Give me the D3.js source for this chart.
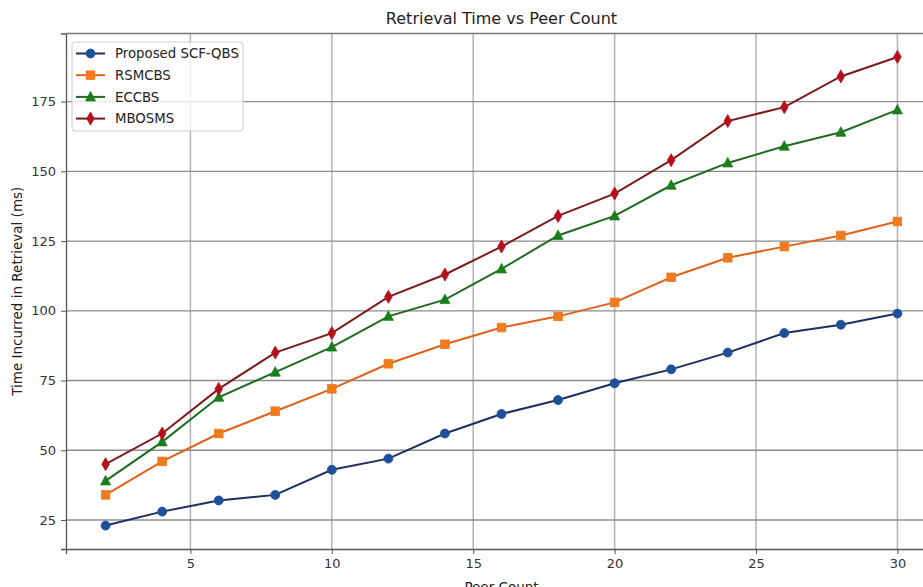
<html>
<head>
<script src="https://d3js.org/d3.v7.min.js"></script>
<style>
  body { margin: 0; background: #fff; }
  text { font-family: "DejaVu Sans", sans-serif; fill: #333; }
</style>
</head>
<body>
<svg id="chart" width="923" height="587"></svg>
<script>
var peers = [2, 4, 6, 8, 10, 12, 14, 16, 18, 20, 22, 24, 26, 28, 30];
var scfqbs = [23, 28, 32, 34, 43, 47, 56, 63, 68, 74, 79, 85, 92, 95, 99];
var rsmcbs = [34, 46, 56, 64, 72, 81, 88, 94, 98, 103, 112, 119, 123, 127, 132];
var eccbs = [39, 53, 69, 78, 87, 98, 104, 115, 127, 134, 145, 153, 159, 164, 172];
var mbosms = [45, 56, 72, 85, 92, 105, 113, 123, 134, 142, 154, 168, 173, 184, 191];
var xTicks = [5, 10, 15, 20, 25, 30];
var yTicks = [25, 50, 75, 100, 125, 150, 175];

var series = [
  {name: "Proposed SCF-QBS", values: scfqbs, line: "#1c2f5e", fill: "#1f4f99", marker: "circle"},
  {name: "RSMCBS", values: rsmcbs, line: "#e0621a", fill: "#f07a1e", marker: "square"},
  {name: "ECCBS", values: eccbs, line: "#1f6b1f", fill: "#1b7d1b", marker: "triangle"},
  {name: "MBOSMS", values: mbosms, line: "#7a1c1c", fill: "#b5101a", marker: "diamond"}
];

var svg = d3.select("#chart");
var pLeft = 66, pRight = 937, pTop = 33.5, pBottom = 549;

var x = d3.scaleLinear().domain([0.6, 31.4]).range([pLeft, pRight]);
var y = d3.scaleLinear().domain([14.6, 199.4]).range([pBottom, pTop]);

// grid
svg.append("g").selectAll("line").data(xTicks).enter().append("line")
  .attr("x1", d => x(d)).attr("x2", d => x(d))
  .attr("y1", pTop).attr("y2", pBottom)
  .style("stroke", "#b3b3b3").style("stroke-width", 1.5);
svg.append("g").selectAll("line").data(yTicks).enter().append("line")
  .attr("x1", pLeft).attr("x2", pRight)
  .attr("y1", d => y(d)).attr("y2", d => y(d))
  .style("stroke", "#8c8c8c").style("stroke-width", 1.3);

// axes
var xAxis = svg.append("g").attr("transform", "translate(0," + pBottom + ")")
  .call(d3.axisBottom(x).tickValues(xTicks).tickSize(5).tickPadding(5));
var yAxis = svg.append("g").attr("transform", "translate(" + pLeft + ",0)")
  .call(d3.axisLeft(y).tickValues(yTicks).tickSize(5).tickPadding(5));
[xAxis, yAxis].forEach(function(a) {
  a.select(".domain").style("stroke", "#555").style("stroke-width", 1.3);
  a.selectAll(".tick line").style("stroke", "#555");
  a.selectAll(".tick text").style("font-size", "13px").style("fill", "#333");
});
svg.append("line").attr("x1", pLeft).attr("x2", pRight).attr("y1", pTop).attr("y2", pTop)
  .style("stroke", "#777").style("stroke-width", 1.3);

// title and labels
svg.append("text").attr("x", (pLeft + pRight) / 2).attr("y", 24)
  .attr("text-anchor", "middle").style("font-size", "16px").style("fill", "#222")
  .text("Retrieval Time vs Peer Count");
svg.append("text").attr("x", (pLeft + pRight) / 2).attr("y", 592)
  .attr("text-anchor", "middle").style("font-size", "13.5px").style("fill", "#222")
  .text("Peer Count");
svg.append("text").attr("transform", "translate(22," + ((pTop + pBottom) / 2) + ") rotate(-90)")
  .attr("text-anchor", "middle").style("font-size", "13.5px").style("fill", "#222")
  .text("Time Incurred in Retrieval (ms)");

function drawMarker(g, type, fill, edge) {
  var m;
  if (type == "circle") m = g.append("circle").attr("r", 4.5);
  else if (type == "square") m = g.append("rect").attr("x", -4.3).attr("y", -4.3).attr("width", 8.6).attr("height", 8.6);
  else if (type == "triangle") m = g.append("path").attr("d", "M0,-5.5L5,4L-5,4Z");
  else m = g.append("path").attr("d", "M0,-6.5L3.8,0L0,6.5L-3.8,0Z");
  m.style("fill", fill).style("stroke", edge).style("stroke-width", 0.8);
}

var line = d3.line().x((d, i) => x(peers[i])).y(d => y(d));

series.forEach(function(s) {
  svg.append("path").datum(s.values).attr("d", line)
    .style("fill", "none").style("stroke", s.line).style("stroke-width", 2);
  s.values.forEach(function(v, i) {
    var g = svg.append("g").attr("transform", "translate(" + x(peers[i]) + "," + y(v) + ")");
    drawMarker(g, s.marker, s.fill, s.fill);
  });
});

// legend
var leg = svg.append("g").attr("transform", "translate(72,42)");
leg.append("rect").attr("width", 171).attr("height", 89).attr("rx", 3)
  .style("fill", "rgba(255,255,255,0.8)").style("stroke", "#ccc");
series.forEach(function(s, i) {
  var yy = 11.5 + i * 21.7;
  leg.append("line").attr("x1", 4).attr("x2", 33).attr("y1", yy).attr("y2", yy)
    .style("stroke", s.line).style("stroke-width", 2);
  var g = leg.append("g").attr("transform", "translate(18.5," + yy + ")");
  drawMarker(g, s.marker, s.fill, s.fill);
  leg.append("text").attr("x", 43).attr("y", yy).attr("dy", "0.35em")
    .style("font-size", "13.3px").style("fill", "#222").text(s.name);
});
</script>
</body>
</html>
